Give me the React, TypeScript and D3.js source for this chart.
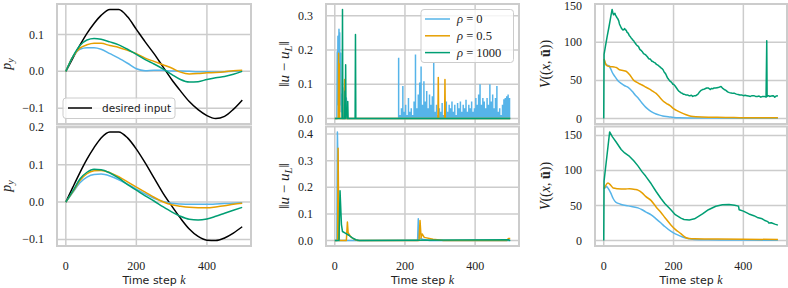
import React from 'react';
import * as d3 from 'd3';

type Pt = [number, number];

const BLUE = '#56B4E9';
const ORANGE = '#E69F00';
const GREEN = '#009E73';
const GRID = '#cccccc';
const SERIF = '"Liberation Serif", "DejaVu Serif", serif';
const SANS = '"DejaVu Sans", sans-serif';

// ---- left column: p_y, sampled at these time steps ----
const leftK = [0, 20, 40, 60, 80, 100, 125, 150, 175, 200, 225, 250, 275, 300, 325, 350, 375, 400, 425, 450, 475, 500];

const desiredTop = [0, 0.036, 0.071, 0.103, 0.13, 0.152, 0.168, 0.168, 0.148, 0.114, 0.08, 0.048, 0.013, -0.022, -0.053, -0.082, -0.104, -0.12, -0.128, -0.122, -0.103, -0.078];
const blueTopL = [0, 0.04, 0.06, 0.064, 0.064, 0.06, 0.048, 0.036, 0.022, 0.007, 0.002, 0.003, 0.003, 0.001, 0.001, 0, -0.001, -0.001, -0.002, -0.001, 0, 0.001];
const orangeTopL = [0, 0.04, 0.063, 0.072, 0.076, 0.076, 0.07, 0.065, 0.057, 0.048, 0.036, 0.027, 0.018, 0.009, -0.002, -0.007, -0.006, -0.004, -0.003, -0.001, 0.002, 0.003];
const greenTopL = [0, 0.04, 0.07, 0.085, 0.089, 0.087, 0.08, 0.072, 0.06, 0.046, 0.032, 0.02, 0.007, -0.008, -0.022, -0.029, -0.028, -0.022, -0.017, -0.014, -0.008, 0];

const desiredBot = [0, 0.04, 0.079, 0.115, 0.146, 0.172, 0.188, 0.188, 0.172, 0.142, 0.105, 0.065, 0.025, -0.01, -0.043, -0.072, -0.092, -0.102, -0.103, -0.096, -0.083, -0.066];
const blueBotL = [0, 0.026, 0.052, 0.067, 0.074, 0.075, 0.07, 0.06, 0.048, 0.035, 0.022, 0.01, 0.002, -0.003, -0.005, -0.006, -0.006, -0.006, -0.005, -0.004, -0.003, -0.002];
const orangeBotL = [0, 0.028, 0.058, 0.076, 0.084, 0.085, 0.079, 0.068, 0.054, 0.04, 0.027, 0.013, 0.001, -0.007, -0.011, -0.014, -0.015, -0.015, -0.013, -0.01, -0.006, -0.003];
const greenBotL = [0, 0.03, 0.062, 0.08, 0.088, 0.087, 0.078, 0.064, 0.047, 0.032, 0.017, 0.003, -0.012, -0.026, -0.038, -0.046, -0.048, -0.045, -0.038, -0.03, -0.022, -0.014];

// ---- middle column: ||u - u_L|| ----
const blueTopM: Pt[] = [[0, 0], [6, 0], [7, 0.195], [8, 0.04], [9, 0.24], [10, 0.06], [12, 0.26], [13, 0.1], [14, 0.25], [15, 0.04], [17, 0.19], [18, 0.02], [20, 0.07], [21, 0], [26, 0], [27, 0.09], [28, 0], [32, 0], [33, 0.06], [34, 0], [500, 0]];
// dense spikes from k = 178 on, one every 4 steps
const blueSpikeStart = 178;
const blueSpikes = [0, 0.177, 0.01, 0.03, 0.095, 0.02, 0.04, 0.01, 0.06, 0.02, 0.03, 0.01, 0.05, 0.187, 0.03, 0.07, 0.105, 0.152, 0.04, 0.109, 0.05, 0.08, 0.03, 0.07, 0.04, 0.065, 0.162, 0.02, 0.04, 0.01, 0.03, 0.02, 0.045, 0.01, 0.03, 0.05, 0.02, 0.04, 0.03, 0.05, 0.02, 0.04, 0.01, 0.045, 0.03, 0.05, 0.02, 0.04, 0.03, 0.055, 0.02, 0.04, 0.03, 0.05, 0.02, 0.03, 0.06, 0.04, 0.07, 0.1, 0.04, 0.06, 0.05, 0.03, 0.06, 0.04, 0.1, 0.05, 0.07, 0.03, 0.06, 0.095, 0.02, 0.03, 0.01, 0.04, 0.056, 0.06, 0.065, 0.07, 0.06];
const orangeTopM: Pt[] = [[0, 0], [10, 0], [11, 0.19], [12, 0.02], [13, 0.16], [14, 0], [27, 0], [28, 0.114], [29, 0], [30, 0.06], [31, 0], [294, 0], [295, 0.12], [296, 0], [313, 0], [314, 0.114], [315, 0], [500, 0]];
const greenTopM: Pt[] = [[0, 0], [21, 0], [22, 0.318], [23, 0], [28, 0], [29, 0.08], [30, 0], [31, 0.157], [32, 0.02], [33, 0.03], [35, 0], [37, 0.05], [38, 0], [58, 0], [59, 0.245], [60, 0], [500, 0]];

const blueBotM: Pt[] = [[0, 0], [6, 0], [7.5, 0.408], [9, 0.3], [11, 0], [236, 0], [238, 0.082], [240, 0.01], [250, 0.005], [270, 0], [500, 0]];
const orangeBotM: Pt[] = [[0, 0], [8, 0], [9.5, 0.347], [11, 0.1], [13, 0], [33, 0], [36, 0.07], [38, 0.03], [45, 0.015], [55, 0.005], [65, 0], [240, 0], [243, 0.075], [246, 0.01], [249, 0.025], [255, 0.012], [280, 0.005], [310, 0], [490, 0], [495, 0.008], [500, 0.008]];
const greenBotM: Pt[] = [[0, 0], [12, 0], [15, 0.187], [19, 0.06], [22, 0.034], [30, 0.028], [40, 0.02], [50, 0.01], [60, 0.003], [70, 0], [495, 0.003], [500, 0]];

// ---- right column: V((x, u)) ----
const greenTopR: Pt[] = [[0, 0], [1, 84], [5, 95], [10, 108], [15, 120], [20, 133], [24, 143], [26, 139], [28, 136], [30, 137], [32, 138], [34, 135], [36, 134], [38, 132], [40, 131], [43, 128], [45, 124], [48, 121], [50, 119], [53, 117], [55, 116], [58, 117], [60, 118], [62, 116], [64, 116], [67, 113], [70, 112], [73, 109], [75, 108], [78, 106], [80, 105], [83, 103], [86, 102], [88, 100], [90, 99], [93, 97], [95, 96], [98, 95], [100, 94], [103, 91], [105, 90], [108, 89], [110, 88], [114, 85], [118, 84], [121, 83], [125, 81], [128, 79], [130, 78], [133, 78], [135, 77], [138, 75], [140, 75], [143, 74], [147, 73], [151, 71], [155, 70], [158, 69], [160, 68], [163, 67], [165, 66], [168, 65], [170, 64], [173, 61], [175, 60], [178, 58], [180, 56], [183, 53], [185, 52], [188, 50], [190, 49], [193, 48], [195, 47], [198, 45], [200, 45], [202, 44], [204, 43], [207, 41], [210, 39], [213, 37], [215, 36], [218, 35], [220, 34], [223, 33.5], [225, 33], [228, 32], [230, 32], [235, 31], [240, 31], [244, 30], [247, 30], [251, 30.5], [255, 29], [260, 30], [264, 30], [267, 31], [270, 32], [273, 34], [275, 35], [279, 37], [283, 38], [287, 38.5], [290, 39], [295, 40], [300, 40], [303, 39], [305, 38], [309, 39.5], [312, 39], [316, 40], [320, 40], [325, 40.5], [330, 41], [333, 41.5], [336, 42], [338, 41], [340, 40], [343, 39], [345, 38], [348, 37.5], [350, 37], [355, 35], [360, 34], [365, 33.5], [370, 33], [375, 33], [380, 32], [385, 31.5], [390, 31], [395, 31], [400, 30], [405, 30.5], [410, 30], [415, 29.5], [420, 29], [425, 30], [430, 30], [435, 29], [440, 29], [445, 29.5], [450, 28], [455, 29], [460, 29], [465, 28], [467, 102], [468, 29], [472, 30], [475, 29], [480, 29.5], [485, 30], [488, 29], [490, 28], [494, 29.5], [499, 30]];
const orangeTopR: Pt[] = [[1, 78], [5, 72], [10, 69], [20, 68], [30, 67.5], [36, 67], [45, 64], [55, 63], [64, 62], [75, 57], [86, 50], [93, 48], [100, 46], [110, 44], [121, 41], [130, 39], [140, 36], [150, 33], [162, 27], [170, 23], [179, 20], [190, 17], [200, 13], [207, 11], [220, 8], [236, 5], [250, 3], [264, 2.2], [300, 1.6], [350, 1.5], [400, 1], [450, 1], [499, 1.2]];
const blueTopR: Pt[] = [[1, 78], [5, 72], [10, 70], [15, 69], [20, 65], [25, 60], [32, 55], [40, 50], [50, 46], [60, 43], [70, 41], [83, 35], [90, 31], [100, 26], [112, 19], [120, 15], [130, 11], [140, 8], [150, 6], [160, 4.5], [169, 3.4], [185, 2.5], [200, 1.5], [217, 1], [250, 0.8], [300, 0.6], [400, 0.5], [499, 0.5]];

const greenBotR: Pt[] = [[0, 0], [1, 85], [17, 155], [25, 148], [35, 141], [50, 130], [60, 125], [74, 120], [86, 114], [98, 106.6], [110, 98], [120, 92], [136, 81], [150, 70], [164, 60], [175, 53], [193, 43.5], [205, 37], [221, 32], [230, 30], [245, 29.5], [260, 31], [283, 38], [300, 44], [321, 49], [340, 51], [359, 51.5], [375, 50.5], [383, 49.5], [386, 49], [388, 44], [400, 42], [416, 38], [430, 35.5], [440, 33], [454, 31], [460, 29], [470, 27], [473, 25], [480, 25.5], [490, 23.5], [499, 22]];
const orangeBotR: Pt[] = [[1, 74], [5, 78], [12, 82], [20, 79], [27, 75], [40, 74], [60, 73.5], [74, 74], [90, 73], [98, 72], [110, 68], [120, 63], [136, 57], [150, 48], [164, 40], [175, 33], [193, 22], [205, 16], [221, 10], [236, 4], [245, 3], [260, 2.5], [300, 2.3], [400, 2], [499, 1.5]];
const blueBotR: Pt[] = [[1, 74], [5, 76], [8, 77], [12, 75], [20, 68], [27, 60], [34, 55], [42, 53], [50, 51.5], [70, 49.5], [98, 46.7], [110, 44], [120, 41], [136, 36.5], [150, 31], [164, 25], [175, 20], [193, 13], [205, 9.5], [221, 6], [235, 3.5], [245, 2.5], [260, 1.5], [300, 1], [400, 0.7], [499, 0.5]];

const kTicks = [0, 200, 400];
const pyTicksTop = [-0.1, 0, 0.1];
const pyTicksBot = [-0.1, 0, 0.1, 0.2];
const uTicksTop = [0, 0.1, 0.2, 0.3];
const uTicksBot = [0, 0.1, 0.2, 0.3, 0.4];
const vTicks = [0, 50, 100, 150];

const legendRho = ['0', '0.5', '1000'];

const zipK = (vals: number[]): Pt[] => vals.map((v, i) => [leftK[i], v]);

type Series = { pts: Pt[]; color: string; linear?: boolean };

interface PanelProps {
  id: string;
  x0: number; x1: number; y0: number; y1: number;
  series: Series[];
  spikes?: { start: number; step: number; vals: number[]; color: string };
  yTicks: number[];
  fmt: (v: number) => string;
  showX: boolean;
}

const minus = (s: string) => s.replace('-', '\u2212');
const serifStyle = { fontFamily: SERIF };
const sansStyle = { fontFamily: SANS };

function Panel({ id, x0, x1, y0, y1, series, spikes, yTicks, fmt, showX }: PanelProps) {
  const x = d3.scaleLinear().domain([-25, 525]).range([x0, x1]);
  const allY = series.flatMap(s => s.pts.map(p => p[1])).concat(spikes ? spikes.vals : []);
  const [lo, hi] = d3.extent(allY) as [number, number];
  const m = (hi - lo) * 0.05;
  const y = d3.scaleLinear().domain([lo - m, hi + m]).range([y1, y0]);
  const smooth = d3.line<Pt>().x(d => x(d[0])).y(d => y(d[1])).curve(d3.curveMonotoneX);
  const straight = d3.line<Pt>().x(d => x(d[0])).y(d => y(d[1]));
  let spikePath = '';
  if (spikes) {
    spikes.vals.forEach((v, i) => {
      const kx = x(spikes.start + i * spikes.step);
      spikePath += `M${kx},${y(0)}V${y(v)}`;
    });
  }
  return (
    <g>
      <defs>
        <clipPath id={id}>
          <rect x={x0} y={y0} width={x1 - x0} height={y1 - y0} />
        </clipPath>
      </defs>
      {kTicks.map(t => (
        <line key={'gx' + t} x1={x(t)} x2={x(t)} y1={y0} y2={y1} stroke={GRID} strokeWidth={1.5} />
      ))}
      {yTicks.map(t => (
        <line key={'gy' + t} x1={x0} x2={x1} y1={y(t)} y2={y(t)} stroke={GRID} strokeWidth={1.5} />
      ))}
      <g clipPath={`url(#${id})`} fill="none" strokeWidth={1.5} strokeLinejoin="round">
        {series.map((s, i) => (
          <React.Fragment key={i}>
            {spikes && spikes.color === s.color && (
              <path d={spikePath} stroke={s.color} strokeWidth={1.5} />
            )}
            <path d={(s.linear ? straight : smooth)(s.pts) || ''} stroke={s.color} />
          </React.Fragment>
        ))}
      </g>
      <rect x={x0} y={y0} width={x1 - x0} height={y1 - y0} fill="none" stroke={GRID} strokeWidth={2} />
      {yTicks.map(t => (
        <text key={'ty' + t} x={x0 - 13} y={Math.max(y(t) + 4, 10)} textAnchor="end" style={serifStyle} fontSize={12} fill="#222">
          {minus(fmt(t))}
        </text>
      ))}
      {showX && kTicks.map(t => (
        <text key={'tx' + t} x={x(t)} y={269.5} textAnchor="middle" style={serifStyle} fontSize={12} fill="#222">
          {t}
        </text>
      ))}
      {showX && (
        <text x={(x0 + x1) / 2} y={283.5} textAnchor="middle" style={sansStyle} fontSize={11} fill="#222">
          Time step <tspan style={serifStyle} fontStyle="italic" fontSize={12}>k</tspan>
        </text>
      )}
    </g>
  );
}

const cols = [[57, 251], [326, 519], [595, 787]];
const rows = [[4, 124], [126.5, 246]];

const f1 = (v: number) => v.toFixed(1);
const f0 = (v: number) => v.toFixed(0);

export default function App() {
  const [l, mcol, r] = cols;
  const [t, b] = rows;
  return (
    <svg width={788} height={288} style={{ position: 'absolute', left: 0, top: 0, background: '#fff' }}>
      {/* left column */}
      <Panel id="c1" x0={l[0]} x1={l[1]} y0={t[0]} y1={t[1]} yTicks={pyTicksTop} fmt={f1} showX={false}
        series={[
          { pts: zipK(desiredTop), color: '#000' },
          { pts: zipK(blueTopL), color: BLUE },
          { pts: zipK(orangeTopL), color: ORANGE },
          { pts: zipK(greenTopL), color: GREEN },
        ]} />
      <Panel id="c2" x0={l[0]} x1={l[1]} y0={b[0]} y1={b[1]} yTicks={pyTicksBot} fmt={f1} showX
        series={[
          { pts: zipK(desiredBot), color: '#000' },
          { pts: zipK(blueBotL), color: BLUE },
          { pts: zipK(orangeBotL), color: ORANGE },
          { pts: zipK(greenBotL), color: GREEN },
        ]} />
      {/* middle column */}
      <Panel id="c3" x0={mcol[0]} x1={mcol[1]} y0={t[0]} y1={t[1]} yTicks={uTicksTop} fmt={f1} showX={false}
        spikes={{ start: blueSpikeStart, step: 4, vals: blueSpikes, color: BLUE }}
        series={[
          { pts: blueTopM, color: BLUE, linear: true },
          { pts: orangeTopM, color: ORANGE, linear: true },
          { pts: greenTopM, color: GREEN, linear: true },
        ]} />
      <Panel id="c4" x0={mcol[0]} x1={mcol[1]} y0={b[0]} y1={b[1]} yTicks={uTicksBot} fmt={f1} showX
        series={[
          { pts: blueBotM, color: BLUE, linear: true },
          { pts: orangeBotM, color: ORANGE, linear: true },
          { pts: greenBotM, color: GREEN, linear: true },
        ]} />
      {/* right column */}
      <Panel id="c5" x0={r[0]} x1={r[1]} y0={t[0]} y1={t[1]} yTicks={vTicks} fmt={f0} showX={false}
        series={[
          { pts: blueTopR, color: BLUE },
          { pts: orangeTopR, color: ORANGE },
          { pts: greenTopR, color: GREEN, linear: true },
        ]} />
      <Panel id="c6" x0={r[0]} x1={r[1]} y0={b[0]} y1={b[1]} yTicks={vTicks} fmt={f0} showX
        series={[
          { pts: blueBotR, color: BLUE },
          { pts: orangeBotR, color: ORANGE },
          { pts: greenBotR, color: GREEN, linear: true },
        ]} />

      {/* y labels */}
      {[64, 186].map(cy => (
        <text key={'py' + cy} transform={`translate(11,${cy}) rotate(-90)`} textAnchor="middle" style={serifStyle} fontSize={14} fill="#222">
          <tspan fontStyle="italic">p</tspan><tspan fontStyle="italic" fontSize={10} dy={3}>y</tspan>
        </text>
      ))}
      {[64, 186].map(cy => (
        <text key={'u' + cy} transform={`translate(289,${cy}) rotate(-90)`} textAnchor="middle" style={serifStyle} fontSize={15} fill="#222">
          {'\u2016'}<tspan fontStyle="italic">u</tspan>{' \u2212 '}<tspan fontStyle="italic">u</tspan>
          <tspan fontStyle="italic" fontSize={10.5} dy={3}>L</tspan><tspan dy={-3}>{'\u2016'}</tspan>
        </text>
      ))}
      {[64, 186].map(cy => (
        <text key={'v' + cy} transform={`translate(550,${cy}) rotate(-90)`} textAnchor="middle" style={serifStyle} fontSize={14} fill="#222">
          <tspan fontStyle="italic">V</tspan>{'(('}<tspan fontStyle="italic">x</tspan>{', '}
          <tspan fontWeight="bold">{'u\u0304'}</tspan>{'))'}
        </text>
      ))}

      {/* legend: desired input */}
      <g>
        <rect x={63} y={98} width={112} height={20.5} rx={3} fill="#fff" fillOpacity={0.8} stroke={GRID} strokeWidth={1} />
        <line x1={68} x2={92} y1={108} y2={108} stroke="#000" strokeWidth={1.5} />
        <text x={102} y={112} style={sansStyle} fontSize={10.5} fill="#222">desired input</text>
      </g>
      {/* legend: rho */}
      <g>
        <rect x={421} y={9.5} width={92.5} height={53} rx={3} fill="#fff" fillOpacity={0.8} stroke={GRID} strokeWidth={1} />
        {legendRho.map((rho, i) => {
          const cy = 19 + i * 16.8;
          const c = [BLUE, ORANGE, GREEN][i];
          return (
            <g key={rho}>
              <line x1={425} x2={450} y1={cy} y2={cy} stroke={c} strokeWidth={1.5} />
              <text x={457} y={cy + 4} style={serifStyle} fontSize={12.5} fill="#222">
                <tspan fontStyle="italic">{'\u03c1'}</tspan>{' = ' + rho}
              </text>
            </g>
          );
        })}
      </g>
    </svg>
  );
}
